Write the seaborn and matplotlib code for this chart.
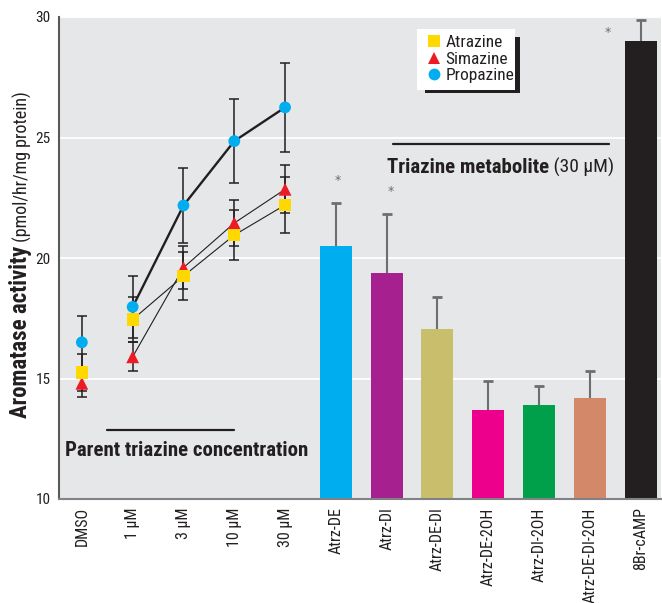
import matplotlib
matplotlib.use("Agg")
import matplotlib.pyplot as plt
import seaborn as sns
import pandas as pd
import numpy as np
from matplotlib.lines import Line2D
from matplotlib.patches import Rectangle
from matplotlib.text import Annotation
from matplotlib import font_manager

# ---------------- data ----------------
categories = ["DMSO", "1 \u00b5M", "3 \u00b5M", "10 \u00b5M", "30 \u00b5M",
              "Atrz-DE", "Atrz-DI", "Atrz-DE-DI", "Atrz-DE-2OH",
              "Atrz-DI-2OH", "Atrz-DE-DI-2OH", "8Br-cAMP"]
conc_labels = ["DMSO", "1 \u00b5M", "3 \u00b5M", "10 \u00b5M", "30 \u00b5M"]

atrazine = [15.25, 17.45, 19.25, 20.95, 22.2]
atrazine_err = [0.75, 0.95, 1.0, 1.05, 1.15]
simazine = [14.8, 15.9, 19.6, 21.45, 22.85]
simazine_err = [0.55, 0.6, 0.9, 0.95, 1.0]
propazine = [16.5, 17.97, 22.18, 24.85, 26.25]
propazine_err = [1.1, 1.3, 1.57, 1.75, 1.85]

bar_labels = ["Atrz-DE", "Atrz-DI", "Atrz-DE-DI", "Atrz-DE-2OH",
              "Atrz-DI-2OH", "Atrz-DE-DI-2OH", "8Br-cAMP"]
bar_values = [20.5, 19.37, 17.04, 13.7, 13.9, 14.2, 29.0]
bar_err = [1.8, 2.46, 1.36, 1.2, 0.77, 1.1, 0.87]
significant = ["Atrz-DE", "Atrz-DI", "8Br-cAMP"]

# ---------------- styles ----------------
avail = {f.name for f in font_manager.fontManager.ttflist}
FONT = next((f for f in ["Roboto Condensed", "PT Sans Narrow", "Fira Sans Condensed",
                         "Liberation Sans Narrow", "Liberation Sans"] if f in avail), "DejaVu Sans")

sns.set_style("white")
plt.rcParams["font.family"] = [FONT, "DejaVu Sans"]

bar_colors = {"Atrz-DE": "#00AEEF", "Atrz-DI": "#A6218F", "Atrz-DE-DI": "#C9BE6B",
              "Atrz-DE-2OH": "#EC008C", "Atrz-DI-2OH": "#00A04B",
              "Atrz-DE-DI-2OH": "#D4886A", "8Br-cAMP": "#231F20"}
series_style = {
    "Atrazine": dict(color="#FFD800", marker="s", s=78, lw=0.8),
    "Simazine": dict(color="#ED1C24", marker="^", s=85, lw=0.8),
    "Propazine": dict(color="#00AEEF", marker="o", s=72, lw=1.7),
}
INK = "#231F20"
BG = "#E6E7E8"

# ---------------- figure ----------------
W, H = 662, 603
fig = plt.figure(figsize=(W / 100, H / 100), dpi=100)
ax = fig.add_axes([59 / W, 1 - 499 / H, (661 - 59) / W, (499 - 17) / H])
ax.set_facecolor(BG)

pos = {c: i for i, c in enumerate(categories)}
conc_pos = [pos[c] for c in conc_labels]
bar_pos = [pos[c] for c in bar_labels]

# bars
df_bars = pd.DataFrame({"x": bar_pos, "treatment": bar_labels, "activity": bar_values})
sns.barplot(data=df_bars, x="x", y="activity", hue="treatment", palette=bar_colors,
            native_scale=True, dodge=False, width=0.63, saturation=1,
            errorbar=None, legend=False, ax=ax, zorder=2, linewidth=0)
eb = ax.errorbar(bar_pos, bar_values, yerr=[np.zeros(len(bar_err)), bar_err], fmt="none",
                 ecolor="#6D6E71", elinewidth=1.5, capsize=3.5, capthick=2, zorder=1.8)
caps = eb[1]
if len(caps) >= 2:
    caps[0].set_visible(False)
    caps[1].set_color(INK)

# series lines and markers
series = {"Atrazine": (atrazine, atrazine_err),
          "Simazine": (simazine, simazine_err),
          "Propazine": (propazine, propazine_err)}
for name, (vals, errs) in series.items():
    st = series_style[name]
    sns.lineplot(x=conc_pos[1:], y=vals[1:], color=INK, lw=st["lw"], ax=ax,
                 zorder=3, errorbar=None)
for name, (vals, errs) in series.items():
    ax.errorbar(conc_pos, vals, yerr=errs, fmt="none", ecolor=INK, elinewidth=1.1,
                capsize=3.5, capthick=1.1, zorder=3.2)
for name in ["Propazine", "Simazine", "Atrazine"]:
    vals, errs = series[name]
    st = series_style[name]
    sns.scatterplot(x=conc_pos, y=vals, marker=st["marker"], s=st["s"],
                    color=st["color"], edgecolor="none", linewidth=0, ax=ax, zorder=4)

# significance asterisks
star_off = {"Atrz-DE": (0.04, 0.9), "Atrz-DI": (0.08, 0.95), "8Br-cAMP": (-0.65, 0.35)}
for c in significant:
    i = bar_labels.index(c)
    dx, dy = star_off[c]
    top = bar_values[i] + (bar_err[i] if c != "8Br-cAMP" else 0)
    ax.text(bar_pos[i] + dx, top + dy, "*", ha="center", va="center",
            fontsize=9, color="#6D6E71", family="DejaVu Sans")

# axes formatting
ax.set_xlim(-0.45, 11.40)
ax.set_ylim(10, 30)
ax.set_yticks([10, 15, 20, 25, 30])
ax.set_xticks(range(len(categories)))
ax.set_xticklabels(categories, rotation=90, fontsize=11.5, color=INK)
ax.tick_params(axis="x", length=0, pad=6)
ax.tick_params(axis="y", length=2, width=1, pad=4, labelsize=11, labelcolor=INK, color="#58595B")
ax.yaxis.grid(True, color="white", lw=1.3)
ax.xaxis.grid(False)
ax.set_axisbelow(True)
for s in ["top", "right"]:
    ax.spines[s].set_visible(False)
ax.spines["left"].set_color("#58595B")
ax.spines["left"].set_linewidth(1.5)
ax.spines["bottom"].set_color("#808285")
ax.spines["bottom"].set_linewidth(1.5)
ax.set_xlabel("")
ax.set_ylabel("")

# annotations
ax.plot([0.5, 3.0], [12.875, 12.875], color=INK, lw=1.6, zorder=3)
ax.text(2.06, 12.0, "Parent triazine concentration", ha="center", va="center",
        fontsize=15, fontweight="bold", color=INK)
ax.plot([6.13, 10.38], [24.75, 24.75], color=INK, lw=1.6, zorder=3)
t1 = ax.text(6.0, 23.75, "Triazine metabolite", ha="left", va="center",
             fontsize=15, fontweight="bold", color=INK)
ax.annotate(" (30 \u00b5M)", xy=(1, 0), xycoords=t1, ha="left", va="bottom",
            fontsize=14, color=INK)

# y label (bold + regular)
yl1 = fig.text(21 / W, 1 - 418 / H, "Aromatase activity", rotation=90, ha="center",
               va="bottom", fontsize=16.5, fontweight="bold", color=INK)
fig.add_artist(Annotation(" (pmol/hr/mg protein)", xy=(1, 1), xycoords=yl1,
                          rotation=90, ha="right", va="bottom", fontsize=13,
                          color=INK))

# legend with drop shadow
fig.add_artist(Rectangle((425 / W, 1 - 93 / H), 95 / W, 56 / H, transform=fig.transFigure,
                         facecolor=INK, edgecolor="none", zorder=5))
fig.add_artist(Rectangle((417 / W, 1 - 90 / H), 98 / W, 61 / H, transform=fig.transFigure,
                         facecolor="white", edgecolor="none", zorder=6))
handles = [Line2D([], [], ls="none", marker=series_style[n]["marker"],
                  color=series_style[n]["color"], markersize=8.5, markeredgewidth=0)
           for n in ["Atrazine", "Simazine", "Propazine"]]
leg = fig.legend(handles, ["Atrazine", "Simazine", "Propazine"], loc="upper left",
                 bbox_to_anchor=(427 / W, 1 - 35 / H), frameon=False, fontsize=12.5,
                 handlelength=0.8, handletextpad=0.25, labelspacing=0.08,
                 borderpad=0, borderaxespad=0)
leg.set_zorder(7)
for t in leg.get_texts():
    t.set_color(INK)

fig.savefig("out.png", dpi=100, facecolor="white")
